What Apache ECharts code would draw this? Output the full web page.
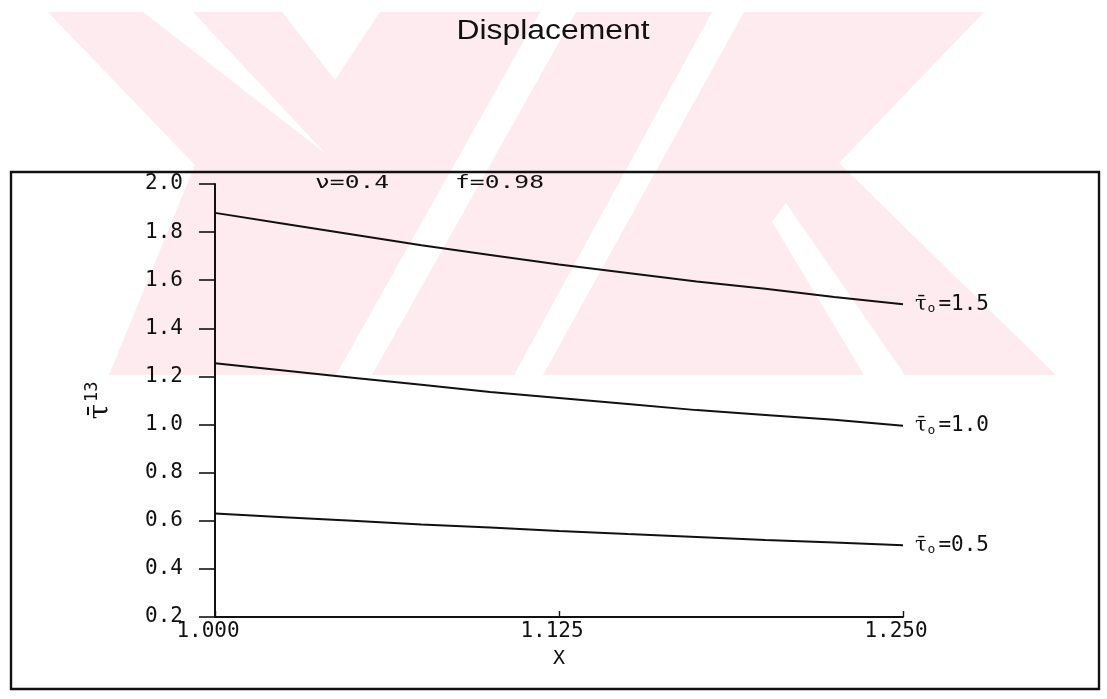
<!DOCTYPE html>
<html>
<head>
<meta charset="utf-8">
<script src="https://cdn.jsdelivr.net/npm/echarts@6/dist/echarts.min.js"></script>
<style>
html,body{margin:0;padding:0;background:#fff;}
#chart{width:1107px;height:699px;}
</style>
</head>
<body>
<div id="chart"></div>
<script>
// ---- data ----
const xValues = [1.000, 1.025, 1.050, 1.075, 1.100, 1.125, 1.150, 1.175, 1.200, 1.225, 1.250];
const tau15 = [1.880, 1.835, 1.790, 1.745, 1.705, 1.665, 1.630, 1.595, 1.565, 1.530, 1.500];
const tau10 = [1.255, 1.225, 1.195, 1.165, 1.135, 1.110, 1.085, 1.060, 1.040, 1.020, 0.995];
const tau05 = [0.630, 0.615, 0.600, 0.585, 0.572, 0.558, 0.545, 0.533, 0.520, 0.510, 0.498];
const seriesNames = ['1.5', '1.0', '0.5'];
const titleText = 'Displacement';
const paramNu = 'ν=0.4';
const paramF = 'f=0.98';

const mono = '"DejaVu Sans Mono", monospace';
const pink = '#fdebef';

function pairs(ys) { return xValues.map((x, i) => [x, ys[i]]); }

function lineSeries(name, ys) {
  return {
    type: 'line',
    name: 'τ̄o=' + name,
    data: pairs(ys),
    showSymbol: false,
    symbol: 'none',
    lineStyle: { color: '#111', width: 2 },
    itemStyle: { color: '#111' },
    animation: false,
    endLabel: {
      show: true,
      distance: 12,
      formatter: () => '{t|τ̄}{o|o}{v|=' + name + '}',
      rich: {
        t: { fontFamily: '"DejaVu Serif", serif', fontSize: 21, color: '#111', padding: [0, 1, 0, 0] },
        o: { fontFamily: mono, fontSize: 13, color: '#111', padding: [9, 3, 0, 0] },
        v: { fontFamily: mono, fontSize: 21, color: '#111' }
      }
    }
  };
}

const chart = echarts.init(document.getElementById('chart'), null, { renderer: 'canvas' });
chart.setOption({
  backgroundColor: '#ffffff',
  animation: false,
  grid: { left: 215, right: 204, top: 184, bottom: 82, containLabel: false },
  xAxis: {
    type: 'value',
    min: 1.0, max: 1.25, interval: 0.125,
    name: 'X',
    nameLocation: 'middle',
    nameGap: 32,
    nameTextStyle: { fontFamily: mono, fontSize: 20, color: '#111' },
    axisLine: { show: true, onZero: false, lineStyle: { color: '#111', width: 2 } },
    axisTick: { show: true, inside: true, length: 6, lineStyle: { color: '#111', width: 1.4 } },
    axisLabel: {
      fontFamily: mono, fontSize: 21, color: '#111', margin: 4,
      formatter: v => v.toFixed(3), padding: [0, 14, 0, 0]
    },
    splitLine: { show: false }
  },
  yAxis: {
    type: 'value',
    min: 0.2, max: 2.0, interval: 0.2,
    name: '{t|τ̄}{s|13}',
    nameLocation: 'middle',
    nameGap: 98,
    nameRotate: 90,
    nameTextStyle: {
      rich: {
        t: { fontFamily: '"DejaVu Serif", serif', fontSize: 28, color: '#111' },
        s: { fontFamily: mono, fontSize: 17, color: '#111', padding: [0, 0, 16, 2] }
      }
    },
    axisLine: { show: true, lineStyle: { color: '#111', width: 2 } },
    axisTick: { show: true, inside: false, length: 16, lineStyle: { color: '#111', width: 1.6 } },
    axisLabel: {
      fontFamily: mono, fontSize: 21, color: '#111', margin: 32,
      formatter: v => v.toFixed(1)
    },
    splitLine: { show: false }
  },
  graphic: {
    elements: [
      // faint watermark
      { type: 'polygon', z: -20, silent: true,
        shape: { points: [[48,12],[984,12],[839,163],[1056,375],[109,375],[195,165]] },
        style: { fill: pink } },
      { type: 'polygon', z: -19, silent: true,
        shape: { points: [[143,12],[193,12],[326,154]] }, style: { fill: '#fff' } },
      { type: 'polygon', z: -19, silent: true,
        shape: { points: [[282,12],[380,12],[335,80]] }, style: { fill: '#fff' } },
      { type: 'polygon', z: -19, silent: true,
        shape: { points: [[540,12],[576,12],[372,375],[336,375]] }, style: { fill: '#fff' } },
      { type: 'polygon', z: -19, silent: true,
        shape: { points: [[712,12],[744,12],[543,375],[514,375]] }, style: { fill: '#fff' } },
      { type: 'polygon', z: -19, silent: true,
        shape: { points: [[786,203],[905,375],[864,375],[772,222]] }, style: { fill: '#fff' } },
      // frame
      { type: 'rect', z: 50, silent: true,
        shape: { x: 11, y: 172, width: 1088, height: 517 },
        style: { fill: 'none', stroke: '#111', lineWidth: 2.4 } },
      // title
      { type: 'text', z: 50, x: 553, y: 32, scaleX: 1.18,
        style: { text: titleText, font: '27px "Liberation Sans", Arial, sans-serif',
                 fill: '#111', align: 'center', verticalAlign: 'middle' } },
      // parameters
      { type: 'text', z: 50, x: 315, y: 184, scaleX: 1.45,
        style: { text: paramNu, font: '17px ' + mono, fill: '#111', align: 'left', verticalAlign: 'middle' } },
      { type: 'text', z: 50, x: 455, y: 184, scaleX: 1.45,
        style: { text: paramF, font: '17px ' + mono, fill: '#111', align: 'left', verticalAlign: 'middle' } }
    ]
  },
  series: [
    lineSeries(seriesNames[0], tau15),
    lineSeries(seriesNames[1], tau10),
    lineSeries(seriesNames[2], tau05)
  ]
});
</script>
</body>
</html>
